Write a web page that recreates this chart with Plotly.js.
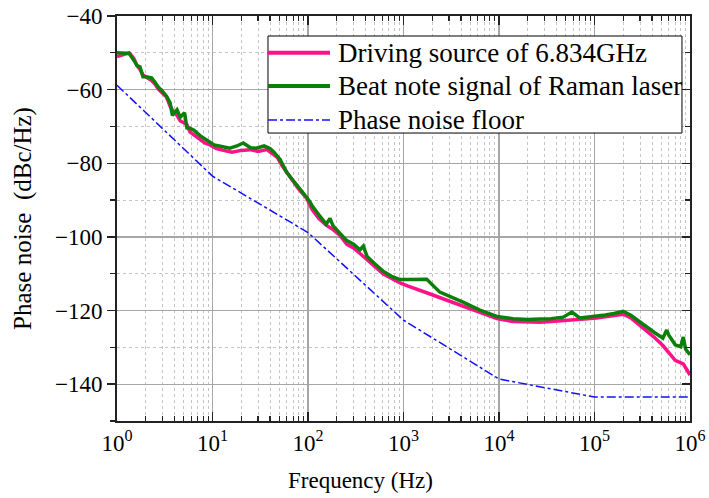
<!DOCTYPE html>
<html>
<head>
<meta charset="utf-8">
<script src="https://cdn.plot.ly/plotly-3.0.1.min.js"></script>
<style>html,body{margin:0;padding:0;background:#fff;}#chart{width:709px;height:498px;}</style>
</head>
<body>
<div id="chart"></div>
<script>
// Frequency (Hz) and phase noise (dBc/Hz)
const freqDriving = [1, 1.15, 1.34, 1.5, 1.62, 1.74, 1.87, 2.0, 2.3, 2.5, 2.7, 3.0, 3.3, 3.6, 3.8, 4.25, 4.6, 5.0, 5.4, 5.8, 6.5, 7.4, 8.3, 9.4, 11, 13, 16, 20, 24.7, 30, 37, 43, 48, 53, 60, 70, 80, 97, 110, 130, 155, 183, 215, 255, 300, 350, 415, 500, 610, 750, 920, 1100, 1400, 1900, 2850, 4200, 6300, 9500, 14000, 20000, 27000, 35000, 47000, 58000, 70000, 85000, 105000, 130000, 160000, 200000, 240000, 300000, 350000, 420000, 520000, 600000, 700000, 850000, 1000000];
const noiseDriving = [-51, -50.5, -50, -51.5, -53.5, -54.5, -56, -56.5, -57.5, -58.5, -59.8, -61, -62, -64.5, -65.5, -67, -68.5, -69, -69.5, -71.5, -72.5, -73.5, -74.5, -75, -76, -76.5, -77, -76.5, -76.3, -76.8, -76.3, -77.5, -78.5, -80.5, -82.5, -85, -87, -89.5, -92.5, -95, -96.8, -98, -99.5, -102, -103, -104.5, -106.3, -108, -110, -111.3, -112.5, -113.3, -114.2, -115.5, -117.2, -118.8, -120.7, -122.2, -123, -123.2, -123.2, -123, -122.8, -122.6, -122.5, -122.2, -122, -121.6, -121.2, -121, -122, -124, -125.5, -127.2, -129.5, -131.5, -133.5, -134.5, -137.5];

const freqBeat = [1, 1.15, 1.34, 1.5, 1.62, 1.74, 1.87, 2.0, 2.3, 2.5, 2.7, 3.0, 3.3, 3.6, 3.8, 4.25, 4.6, 5.1, 5.4, 5.8, 6.4, 7.4, 8.1, 9.4, 10.4, 13.2, 15.2, 18, 21, 25, 28.6, 34.7, 40, 44, 48, 51, 60, 70, 80, 97, 105, 110, 130, 155, 170, 183, 215, 255, 300, 350, 380, 415, 500, 610, 750, 920, 1100, 1400, 1750, 2400, 2850, 4200, 6300, 9500, 14000, 20000, 27000, 35000, 47000, 58000, 70000, 85000, 105000, 130000, 160000, 200000, 240000, 300000, 350000, 420000, 520000, 570000, 600000, 700000, 800000, 850000, 900000, 1000000];
const noiseBeat = [-50, -50, -50.2, -52, -53.5, -53.8, -56.5, -56.5, -56.8, -58, -59.3, -60.5, -61.8, -63.6, -67, -65.5, -67.5, -66.3, -70.4, -70.5, -71, -72.5, -73.2, -74.2, -75, -75.6, -75.9, -75.3, -74.5, -75.8, -75.9, -75.3, -76, -77, -78, -79, -82.5, -84.6, -86.5, -89.3, -90.5, -91.5, -94, -96.5, -95, -97, -99, -101, -102, -103.5, -102.5, -105.3, -107.3, -109.3, -110.7, -111.6, -111.6, -111.5, -111.5, -115, -115.8, -117.7, -119.9, -121.6, -122.2, -122.4, -122.3, -122.2, -121.8, -120.4, -122, -121.8, -121.6, -121.2, -120.8, -120.2, -121.3, -123.2, -124.3, -125.9, -127.5, -125.3, -126.7, -129.3, -129.8, -127.2, -130.5, -132];

const freqFloor = [1, 10, 100, 1000, 10000, 100000, 1000000];
const noiseFloor = [-58.8, -83.5, -98.8, -122.6, -138.6, -143.5, -143.5];

const xTickVals = [1, 10, 100, 1000, 10000, 100000, 1000000];
const xTickText = ['10<sup>0</sup>', '10<sup>1</sup>', '10<sup>2</sup>', '10<sup>3</sup>', '10<sup>4</sup>', '10<sup>5</sup>', '10<sup>6</sup>'];

const seriesNames = ['Driving source of 6.834GHz', 'Beat note signal of Raman laser', 'Phase noise floor'];
const seriesColors = ['#ff1289', '#0a800a', '#1010ff'];
const seriesWidths = [3.5, 3.5, 1.5];
const seriesDash = ['solid', 'solid', 'dashdot'];

const minorX = [];
for (let d = 0; d < 6; d++) for (let m = 2; m <= 9; m++) minorX.push(m * Math.pow(10, d));

const FONT = 'Liberation Serif, Times New Roman, serif';
const traces = [
  {x: freqDriving, y: noiseDriving, name: seriesNames[0], mode: 'lines', showlegend: false, line: {color: seriesColors[0], width: seriesWidths[0]}},
  {x: freqBeat, y: noiseBeat, name: seriesNames[1], mode: 'lines', showlegend: false, line: {color: seriesColors[1], width: seriesWidths[1]}},
  {x: freqFloor, y: noiseFloor, name: seriesNames[2], mode: 'lines', showlegend: false, line: {color: seriesColors[2], width: seriesWidths[2], dash: seriesDash[2]}},
  {x: [1], y: [null], yaxis: 'y2', showlegend: false, hoverinfo: 'skip', mode: 'lines'}
];

// legend box drawn in paper coordinates
const legBox = {x0: 0.2635, x1: 0.986, y0: 0.711, y1: 0.9506};
const legRowsY = [0.9094, 0.8272, 0.7432];
const legLineX = [0.2635, 0.3717];
const legTextX = 0.383;

const shapes = [
  {type: 'rect', xref: 'paper', yref: 'paper', x0: legBox.x0, x1: legBox.x1, y0: legBox.y0, y1: legBox.y1,
   fillcolor: '#fff', line: {color: '#000', width: 1}, layer: 'above'}
];
const annotations = [];
for (let i = 0; i < 3; i++) {
  shapes.push({type: 'line', xref: 'paper', yref: 'paper', x0: legLineX[0], x1: legLineX[1], y0: legRowsY[i], y1: legRowsY[i],
               line: {color: seriesColors[i], width: i < 2 ? 4 : 1.5, dash: seriesDash[i]}, layer: 'above'});
  annotations.push({xref: 'paper', yref: 'paper', x: legTextX, y: legRowsY[i], xanchor: 'left', yanchor: 'middle',
                    text: seriesNames[i], showarrow: false, font: {family: FONT, size: 27, color: '#000'}});
}
annotations.push({xref: 'paper', yref: 'paper', x: 0.4258, y: -0.146, xanchor: 'center', yanchor: 'middle',
                  text: 'Frequency (Hz)', showarrow: false, font: {family: FONT, size: 23, color: '#000'}});

const layout = {
  width: 709, height: 498,
  margin: {l: 117, r: 19, t: 16, b: 77},
  paper_bgcolor: '#fff', plot_bgcolor: '#fff',
  font: {family: FONT, color: '#000'},
  showlegend: false,
  shapes: shapes,
  annotations: annotations,
  xaxis: {
    type: 'log', range: [0, 6],
    tickvals: xTickVals, ticktext: xTickText,
    ticks: 'inside', ticklen: 9, tickwidth: 1.5, tickcolor: '#222',
    showline: true, linecolor: '#222', linewidth: 2, mirror: 'ticks',
    showgrid: true, gridcolor: '#a6a6a6', gridwidth: 1.2,
    zeroline: false,
    tickfont: {family: FONT, size: 23},
    minor: {tickvals: minorX, ticks: 'inside', ticklen: 5, tickwidth: 1.2, tickcolor: '#222', showgrid: true, gridcolor: '#c4c4c4', griddash: '3px,3px', gridwidth: 1}
  },
  yaxis: {
    range: [-150, -40], dtick: 20, tick0: -40,
    ticks: 'outside', ticklen: 8, tickwidth: 1.5, tickcolor: '#222',
    showline: true, linecolor: '#222', linewidth: 2, mirror: true,
    showgrid: true, gridcolor: '#a6a6a6', gridwidth: 1.2,
    zeroline: false,
    tickfont: {family: FONT, size: 23},
    title: {text: 'Phase noise&nbsp;&nbsp;(dBc/Hz)', font: {family: FONT, size: 25}, standoff: 16},
    minor: {dtick: 10, ticks: 'outside', ticklen: 5, tickwidth: 1.2, tickcolor: '#222', showgrid: true, gridcolor: '#c4c4c4', griddash: '3px,3px', gridwidth: 1}
  },
  yaxis2: {
    overlaying: 'y', side: 'right', anchor: 'x', range: [-150, -40], dtick: 20, tick0: -40,
    ticks: 'inside', ticklen: 8, tickwidth: 1.5, tickcolor: '#222',
    showticklabels: false, showgrid: false, zeroline: false, showline: false,
    minor: {dtick: 10, ticks: 'inside', ticklen: 5, tickwidth: 1.2, tickcolor: '#222', showgrid: false}
  }
};

Plotly.newPlot('chart', traces, layout, {displayModeBar: false, staticPlot: true});
</script>
</body>
</html>
